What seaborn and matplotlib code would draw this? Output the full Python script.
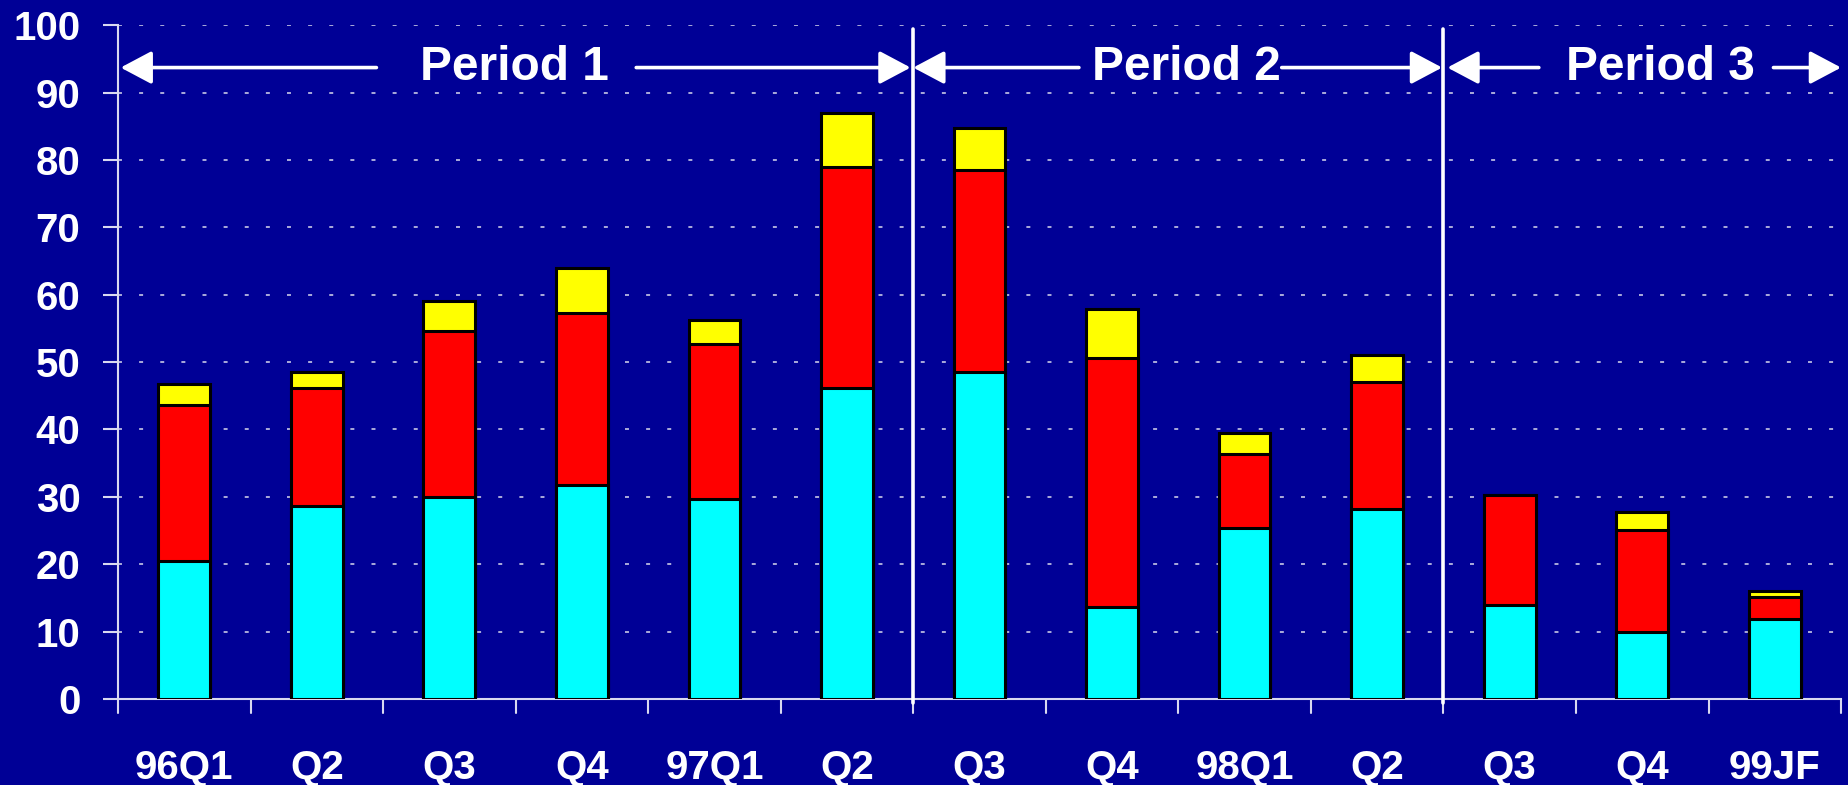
import matplotlib
matplotlib.use("Agg")
import matplotlib.pyplot as plt
import seaborn as sns
import numpy as np
import pandas as pd

categories = ["96Q1", "Q2", "Q3", "Q4", "97Q1", "Q2 ", "Q3 ", "Q4 ", "98Q1", "Q2  ", "Q3  ", "Q4  ", "99JF"]
cyan_vals = [20.5, 28.6, 29.9, 31.8, 29.7, 46.1, 48.5, 13.6, 25.4, 28.2, 13.9, 10.0, 11.9]
red_vals = [23.1, 17.5, 24.7, 25.5, 23.0, 32.8, 30.0, 37.0, 11.0, 18.9, 16.4, 15.1, 3.2]
yellow_vals = [3.1, 2.4, 4.4, 6.6, 3.5, 8.0, 6.3, 7.3, 3.0, 3.9, 0.0, 2.7, 0.9]
period_labels = ["Period 1", "Period 2", "Period 3"]
yticks = list(range(0, 101, 10))

BG = "#000096"
sns.set_theme(style="dark")
plt.rcParams["font.family"] = ["Liberation Sans", "DejaVu Sans"]
plt.rcParams["font.weight"] = "bold"

df = pd.DataFrame({"cat": categories, "cyan": cyan_vals, "red": red_vals, "yellow": yellow_vals})
df["lvl1"] = df["cyan"]
df["lvl2"] = df["cyan"] + df["red"]
df["lvl3"] = df["lvl2"] + df["yellow"]

fig = plt.figure(figsize=(18.49, 7.85), dpi=100, facecolor=BG)
ax = fig.add_axes([0.0638, 0.1096, 0.9319, 0.8584])
ax.set_facecolor(BG)

common = dict(data=df, x="cat", order=categories, width=0.39, edgecolor="black",
              linewidth=2.2, ax=ax, zorder=3, saturation=1)
sns.barplot(y="lvl3", color="#FFFF00", **common)
sns.barplot(y="lvl2", color="#FF0000", **common)
sns.barplot(y="lvl1", color="#00FFFF", **common)

ax.set_xlim(-0.5, len(categories) - 0.5)
ax.set_ylim(0, 100)
ax.set_yticks(yticks)
ax.set_yticklabels([str(t) for t in yticks])
ax.set_xlabel("")
ax.set_ylabel("")

# grid
for t in yticks[1:]:
    ax.axhline(t, color="#b8b8e0", lw=1.3, ls=(0, (2.2, 9.5)), zorder=1)

for s in ["top", "right"]:
    ax.spines[s].set_visible(False)
for s in ["left", "bottom"]:
    ax.spines[s].set_color("#d8d8f0")
    ax.spines[s].set_linewidth(1.5)

ax.tick_params(axis="y", colors="#d8d8f0", length=11, width=1.5, direction="out",
               labelcolor="white", labelsize=29, pad=16, left=True)
ax.tick_params(axis="x", bottom=False, labelcolor="white", labelsize=29, pad=30)
ax.set_xticks(range(len(categories)))
ax.set_xticklabels([c.strip() for c in categories])
for lab in ax.get_xticklabels() + ax.get_yticklabels():
    lab.set_fontweight("bold")

# boundary tick marks below the x axis
for b in np.arange(-0.5, len(categories), 1.0):
    ax.plot([b, b], [0, -2.1], color="#d8d8f0", lw=1.5, clip_on=False, zorder=4)

# period separators
for sx in [5.5, 9.5]:
    ax.plot([sx, sx], [-0.6, 99.4], color="white", lw=2.6, clip_on=False, zorder=5)

# period arrows
ya = 93.7
arrow_kw = dict(arrowstyle="-|>,head_length=1.6,head_width=0.85", color="white", lw=2.6,
                shrinkA=0, shrinkB=0)
arrows = [(1.45, -0.48), (3.41, 5.48), (6.75, 5.50), (8.28, 9.49), (10.22, 9.53), (11.99, 12.5)]
for x0, x1 in arrows:
    ax.annotate("", xy=(x1, ya), xytext=(x0, ya), arrowprops=arrow_kw, annotation_clip=False, zorder=6)

for label, xc in zip(period_labels, [2.49, 7.56, 11.14]):
    ax.text(xc, ya, label, color="white", fontsize=34.5, fontweight="bold",
            ha="center", va="center", zorder=7)

fig.savefig("out.png", dpi=100, facecolor=BG)
